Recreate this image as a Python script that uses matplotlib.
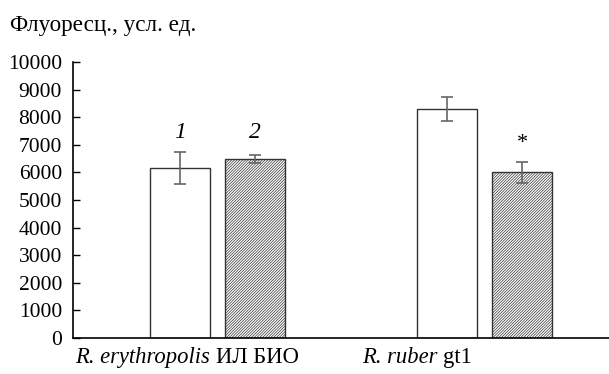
import matplotlib.pyplot as plt
import numpy as np
from matplotlib.transforms import offset_copy

# データ
group_species = ["R. erythropolis", "R. ruber"]
group_strain = ["ИЛ БИО", "gt1"]
values_1 = [6170, 8300]
errors_1 = [580, 450]
values_2 = [6500, 6000]
errors_2 = [140, 370]
yticks = np.arange(0, 10001, 1000)

plt.rcParams['font.family'] = ['Liberation Serif', 'DejaVu Serif']
plt.rcParams['hatch.linewidth'] = 0.5
plt.rcParams['hatch.color'] = '#666666'

fig = plt.figure(figsize=(6.09, 3.74), dpi=100)
ax = fig.add_axes([0.12, 0.0963, 0.88, 0.7377])

centers = np.array([0, 3.56])
w = 0.8
x1 = centers
x2 = centers + 1.0
ax.bar(x1, values_1, w, color='white', edgecolor='#333333', linewidth=1.0)
ax.bar(x2, values_2, w, color='white', edgecolor='#333333', linewidth=1.0, hatch='////////////')
ax.errorbar(x1, values_1, yerr=errors_1, fmt='none', ecolor='#666666', elinewidth=1.2, capsize=4, capthick=1.2)
ax.errorbar(x2, values_2, yerr=errors_2, fmt='none', ecolor='#666666', elinewidth=1.2, capsize=4, capthick=1.2)

# 番号とアスタリスク
ax.text(x1[0], 7430, "1", style='italic', ha='center', va='center', fontsize=17)
ax.text(x2[0], 7430, "2", style='italic', ha='center', va='center', fontsize=17)
ax.text(x2[1], 7050, "*", ha='center', va='center', fontsize=16)

ax.set_xlim(-1.43, 5.72)
ax.set_ylim(0, 10000)
ax.set_yticks(yticks)
ax.set_yticklabels([str(v) for v in yticks], fontsize=15.5)
ax.set_xticks([])
ax.tick_params(axis='y', direction='in', length=5, width=1, pad=8)
for s in ['top', 'right']:
    ax.spines[s].set_visible(False)
ax.spines['left'].set_linewidth(1.2)
ax.spines['bottom'].set_linewidth(1.2)

# グループ名（種名はイタリック）
fig.canvas.draw()
renderer = fig.canvas.get_renderer()
label_x = [-1.40, 2.43]
tr = ax.get_xaxis_transform()
for gx, sp, st in zip(label_x, group_species, group_strain):
    t = ax.text(gx, -0.09, sp + " ", style='italic', ha='left', va='baseline', fontsize=16.3, transform=tr)
    wpx = t.get_window_extent(renderer).width
    ax.text(gx, -0.09, st, ha='left', va='baseline', fontsize=16.3,
            transform=offset_copy(tr, fig=fig, x=wpx * 72 / fig.dpi, units='points'))

fig.text(0.017, 0.933, "Флуоресц., усл. ед.", fontsize=16.7, ha='left', va='center')

fig.savefig("out.png", dpi=100)
